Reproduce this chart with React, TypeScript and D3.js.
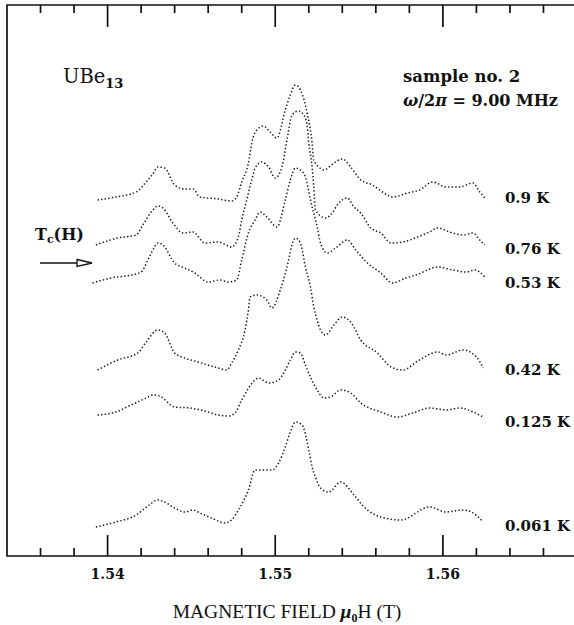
import React, { Component } from 'react'
import * as d3 from 'd3'

// NMR line shapes of UBe13, [field (T), signal + offset (arb. units)]
const trace09 = [
  [1.5394, 71.2], [1.5405, 71.8], [1.5417, 72.8], [1.5424, 75.2], [1.5427, 76.4], [1.5430, 77.8],
  [1.5434, 77.6], [1.5440, 74.2], [1.5446, 73.4], [1.5451, 73.4], [1.5455, 71.8], [1.5466, 71.4],
  [1.5474, 71.0], [1.5477, 71.8], [1.5480, 74.8], [1.5484, 78.6], [1.5486, 82.6], [1.5489, 85.2],
  [1.5493, 86.0], [1.5497, 84.8], [1.5501, 83.6], [1.5506, 89.2], [1.5509, 92.2], [1.5512, 94.2],
  [1.5515, 93.2], [1.5518, 90.2], [1.5519, 88.6], [1.5521, 85.2], [1.5522, 82.6], [1.5523, 79.2],
  [1.5526, 77.8], [1.5529, 77.2], [1.5535, 78.6], [1.5540, 79.4], [1.5545, 77.8], [1.5551, 75.2],
  [1.5558, 74.2], [1.5564, 72.8], [1.5570, 71.8], [1.5579, 72.6], [1.5586, 73.2], [1.5594, 74.8],
  [1.5602, 73.8], [1.5610, 73.8], [1.5618, 74.6], [1.5622, 72.8], [1.5625, 71.6]
]
const trace076 = [
  [1.5393, 62.2], [1.5406, 63.6], [1.5417, 64.2], [1.5421, 66.2], [1.5427, 69.2], [1.5430, 70.0],
  [1.5433, 69.6], [1.5439, 66.6], [1.5445, 64.6], [1.5451, 64.8], [1.5458, 62.6], [1.5466, 62.8],
  [1.5474, 61.8], [1.5478, 63.8], [1.5480, 67.2], [1.5483, 71.2], [1.5486, 75.2], [1.5488, 77.6],
  [1.5492, 78.8], [1.5496, 77.8], [1.5500, 75.6], [1.5504, 77.8], [1.5507, 83.2], [1.5510, 88.2],
  [1.5514, 89.0], [1.5517, 88.2], [1.5519, 86.2], [1.5520, 82.6], [1.5522, 77.8], [1.5523, 73.8],
  [1.5524, 69.2], [1.5530, 67.6], [1.5534, 68.6], [1.5537, 70.2], [1.5543, 71.6], [1.5547, 69.8],
  [1.5551, 68.6], [1.5557, 65.6], [1.5563, 64.6], [1.5569, 62.6], [1.5576, 62.8], [1.5585, 63.8],
  [1.5592, 64.8], [1.5597, 65.6], [1.5604, 64.8], [1.5612, 64.2], [1.5618, 64.6], [1.5622, 63.2],
  [1.5625, 62.2]
]
const trace053 = [
  [1.5391, 54.6], [1.5402, 55.6], [1.5414, 56.2], [1.5420, 56.8], [1.5424, 59.2], [1.5427, 61.2],
  [1.5430, 62.6], [1.5433, 62.2], [1.5440, 58.6], [1.5446, 57.6], [1.5452, 56.6], [1.5460, 54.8],
  [1.5467, 55.2], [1.5472, 54.8], [1.5477, 55.2], [1.5480, 59.2], [1.5484, 64.6], [1.5488, 67.2],
  [1.5491, 68.8], [1.5495, 67.8], [1.5501, 65.8], [1.5506, 71.2], [1.5509, 75.2], [1.5512, 77.6],
  [1.5515, 77.2], [1.5518, 75.8], [1.5521, 71.2], [1.5525, 65.8], [1.5527, 62.6], [1.5531, 60.6],
  [1.5536, 61.6], [1.5543, 63.2], [1.5548, 61.2], [1.5555, 58.6], [1.5563, 56.6], [1.5570, 54.6],
  [1.5578, 55.6], [1.5584, 56.2], [1.5597, 57.8], [1.5606, 57.2], [1.5614, 56.8], [1.5619, 57.2],
  [1.5625, 55.8]
]
const trace042 = [
  [1.5394, 37.2], [1.5406, 39.2], [1.5418, 40.6], [1.5423, 42.8], [1.5430, 45.2], [1.5434, 44.6],
  [1.5440, 40.6], [1.5446, 39.6], [1.5454, 38.8], [1.5466, 37.6], [1.5471, 37.2], [1.5474, 38.6],
  [1.5478, 41.2], [1.5482, 45.2], [1.5484, 49.2], [1.5485, 51.8], [1.5489, 52.2], [1.5495, 51.2],
  [1.5498, 49.6], [1.5503, 53.2], [1.5507, 57.8], [1.5511, 63.2], [1.5512, 63.6], [1.5515, 62.6],
  [1.5518, 57.8], [1.5521, 53.8], [1.5523, 49.8], [1.5525, 47.2], [1.5527, 45.2], [1.5530, 44.2],
  [1.5535, 46.2], [1.5540, 47.8], [1.5545, 46.8], [1.5551, 43.2], [1.5561, 40.6], [1.5569, 37.8],
  [1.5576, 37.2], [1.5586, 39.2], [1.5597, 40.8], [1.5602, 40.2], [1.5612, 41.2], [1.5620, 39.8],
  [1.5624, 37.6]
]
const trace0125 = [
  [1.5394, 28.2], [1.5405, 28.8], [1.5414, 30.2], [1.5423, 31.6], [1.5427, 32.2], [1.5431, 32.0],
  [1.5440, 29.8], [1.5449, 29.6], [1.5458, 29.0], [1.5466, 28.2], [1.5472, 28.0], [1.5476, 28.6],
  [1.5480, 31.2], [1.5488, 35.2], [1.5490, 35.6], [1.5496, 34.6], [1.5502, 35.2], [1.5506, 37.2],
  [1.5509, 39.2], [1.5512, 40.8], [1.5515, 40.6], [1.5518, 38.2], [1.5521, 35.8], [1.5525, 33.2],
  [1.5529, 31.6], [1.5533, 31.8], [1.5539, 33.2], [1.5545, 32.6], [1.5551, 30.6], [1.5563, 28.8],
  [1.5573, 27.8], [1.5582, 28.6], [1.5592, 29.6], [1.5602, 29.2], [1.5610, 29.6], [1.5618, 28.8],
  [1.5624, 27.8]
]
const trace0061 = [
  [1.5393, 5.8], [1.5405, 6.8], [1.5417, 8.2], [1.5424, 10.0], [1.5430, 11.2], [1.5434, 10.8],
  [1.5440, 9.6], [1.5446, 8.8], [1.5451, 9.2], [1.5455, 8.6], [1.5462, 7.6], [1.5470, 6.6],
  [1.5474, 7.2], [1.5478, 9.2], [1.5484, 13.2], [1.5488, 17.2], [1.5492, 17.2], [1.5498, 17.2],
  [1.5502, 18.6], [1.5506, 21.8], [1.5509, 24.8], [1.5512, 26.8], [1.5516, 26.2], [1.5520, 21.2],
  [1.5522, 17.8], [1.5524, 15.8], [1.5527, 13.6], [1.5532, 12.8], [1.5539, 14.8], [1.5547, 12.2],
  [1.5553, 9.8], [1.5563, 7.8], [1.5575, 7.2], [1.5592, 9.8], [1.5602, 8.8], [1.5612, 9.2],
  [1.5617, 8.8], [1.5624, 6.8]
]

const traces = [trace09, trace076, trace053, trace042, trace0125, trace0061]
const tempLabels = ['0.9 K', '0.76 K', '0.53 K', '0.42 K', '0.125 K', '0.061 K']
const labelLevels = [71.7, 61.5, 54.7, 37.3, 26.9, 6.1]
const labelField = 1.5637

const minorTicks = [1.536, 1.538, 1.542, 1.544, 1.546, 1.548, 1.552, 1.554, 1.556, 1.558, 1.562, 1.564, 1.566]
const majorTicks = [1.54, 1.55, 1.56]

class App extends Component {
  width = 574
  height = 625
  node: SVGSVGElement | null = null

  componentDidMount() {
    this.createChart()
  }
  componentDidUpdate() {
    this.createChart()
  }

  createChart() {
    const svg = d3.select(this.node)
    svg.selectAll('*').remove()

    const x = d3.scaleLinear().domain([1.534, 1.568]).range([7, 577])
    const y = d3.scaleLinear().domain([0, 110]).range([556, 6])
    const top = 5
    const bottom = 556

    svg.append('rect').attr('width', this.width).attr('height', this.height).attr('fill', '#fff')

    // frame (right edge falls outside the picture) plus inward ticks top and bottom
    const p = d3.path()
    p.moveTo(x(1.568), top)
    p.lineTo(x(1.534), top)
    p.lineTo(x(1.534), bottom)
    p.lineTo(x(1.568), bottom)
    minorTicks.forEach(v => {
      p.moveTo(x(v), top); p.lineTo(x(v), top + 8)
      p.moveTo(x(v), bottom); p.lineTo(x(v), bottom - 8)
    })
    majorTicks.forEach(v => {
      p.moveTo(x(v), top); p.lineTo(x(v), top + 22)
      p.moveTo(x(v), bottom); p.lineTo(x(v), bottom - 21)
    })
    svg.append('path')
      .attr('d', p.toString())
      .attr('fill', 'none').attr('stroke', '#111').attr('stroke-width', 1.7)

    svg.selectAll('text.tlabel').data(majorTicks).enter().append('text')
      .attr('class', 'tlabel')
      .attr('x', d => x(d)).attr('y', 579)
      .attr('text-anchor', 'middle')
      .attr('font-family', 'DejaVu Serif').attr('font-weight', 'bold').attr('font-size', 14)
      .attr('fill', '#111')
      .text(d => d3.format('.2f')(d))

    const line = d3.line()
      .x(d => x(d[0]))
      .y(d => y(d[1]))
      .curve(d3.curveMonotoneX)

    svg.selectAll('path.trace').data(traces).enter().append('path')
      .attr('class', 'trace')
      .attr('d', d => line(d))
      .attr('fill', 'none')
      .attr('stroke', '#1a1a1a')
      .attr('stroke-width', 1.5)
      .attr('stroke-dasharray', '1.4 2.2')

    svg.selectAll('text.temp').data(tempLabels).enter().append('text')
      .attr('class', 'temp')
      .attr('x', x(labelField))
      .attr('y', (d, i) => y(labelLevels[i]))
      .attr('dy', '0.36em')
      .attr('font-family', 'DejaVu Serif').attr('font-weight', 'bold').attr('font-size', 15)
      .attr('fill', '#111')
      .text(d => d)

    const ube = svg.append('text').attr('x', 63).attr('y', 83)
      .attr('font-family', 'DejaVu Serif').attr('font-size', 19.5).attr('fill', '#111')
    ube.append('tspan').text('UBe')
    ube.append('tspan').attr('dy', 5).attr('font-size', 13).attr('font-weight', 'bold').text('13')

    svg.append('text').attr('x', 403).attr('y', 82)
      .attr('font-family', 'DejaVu Serif').attr('font-weight', 'bold').attr('font-size', 16.5)
      .attr('fill', '#111')
      .text('sample no. 2')

    const freq = svg.append('text').attr('x', 403).attr('y', 106)
      .attr('font-family', 'DejaVu Serif').attr('font-weight', 'bold').attr('font-size', 16)
      .attr('fill', '#111')
    freq.append('tspan').attr('font-style', 'italic').text('ω')
    freq.append('tspan').text('/2')
    freq.append('tspan').attr('font-style', 'italic').text('π')
    freq.append('tspan').text(' = 9.00 MHz')

    const tc = svg.append('text').attr('x', 35).attr('y', 240)
      .attr('font-family', 'DejaVu Serif').attr('font-weight', 'bold').attr('font-size', 16)
      .attr('fill', '#111')
    tc.append('tspan').text('T')
    tc.append('tspan').attr('dy', 3).attr('font-size', 11).text('c')
    tc.append('tspan').attr('dy', -3).text('(H)')

    svg.append('line').attr('x1', 40).attr('x2', 78).attr('y1', 263).attr('y2', 263)
      .attr('stroke', '#111').attr('stroke-width', 1.5)
    svg.append('path').attr('d', 'M77,259.5 L92,263 L77,266.5 Z')
      .attr('fill', '#fff').attr('stroke', '#111').attr('stroke-width', 1.3)

    const title = svg.append('text').attr('x', 287).attr('y', 618)
      .attr('text-anchor', 'middle')
      .attr('font-family', 'Liberation Serif').attr('font-size', 19.5).attr('fill', '#111')
    title.append('tspan').text('MAGNETIC FIELD ')
    title.append('tspan').attr('font-style', 'italic').attr('font-weight', 'bold').text('μ')
    title.append('tspan').attr('dy', 4).attr('font-size', 12).attr('font-weight', 'bold').text('0')
    title.append('tspan').attr('dy', -4).text('H (T)')
  }

  render() {
    return <svg ref={node => { this.node = node }} width={this.width} height={this.height}
      style={{ position: 'absolute', left: 0, top: 0 }}>
    </svg>
  }
}

export default App
